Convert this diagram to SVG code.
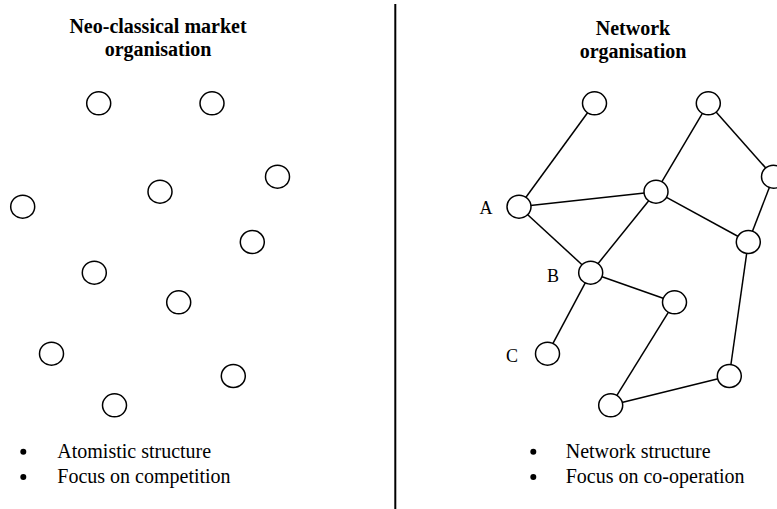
<svg xmlns="http://www.w3.org/2000/svg" width="777" height="509" viewBox="0 0 777 509">
<style>
.n{fill:#fff;stroke:#000;stroke-width:1.5}
.e{stroke:#000;stroke-width:1.5;fill:none}
.t{font-family:"Liberation Serif","Times New Roman","DejaVu Serif",serif;fill:#000}
.h{font-size:20px;font-weight:bold;text-anchor:middle}
.b{font-size:20px}
.l{font-size:18px;text-anchor:middle}
.dot{fill:#000}
</style>
<rect width="777" height="509" fill="#fff"/>
<line x1="395.3" y1="4" x2="395.3" y2="509" stroke="#000" stroke-width="2"/>
<g id="left-title" class="t h"><text x="158" y="33">Neo-classical market</text><text x="158" y="56">organisation</text></g>
<g id="right-title" class="t h"><text x="633" y="35">Network</text><text x="633" y="58">organisation</text></g>
<g id="left-nodes">
<g id="l1"><ellipse class="n" cx="98.7" cy="103.3" rx="12" ry="11.5"/></g>
<g id="l2"><ellipse class="n" cx="212" cy="103.3" rx="12" ry="11.5"/></g>
<g id="l3"><ellipse class="n" cx="22.7" cy="206.7" rx="12" ry="11.5"/></g>
<g id="l4"><ellipse class="n" cx="160" cy="191.7" rx="12" ry="11.5"/></g>
<g id="l5"><ellipse class="n" cx="277.5" cy="176.7" rx="12" ry="11.5"/></g>
<g id="l6"><ellipse class="n" cx="252.3" cy="242" rx="12" ry="11.5"/></g>
<g id="l7"><ellipse class="n" cx="94.3" cy="272.7" rx="12" ry="11.5"/></g>
<g id="l8"><ellipse class="n" cx="178.7" cy="302.3" rx="12" ry="11.5"/></g>
<g id="l9"><ellipse class="n" cx="51.5" cy="353.7" rx="12" ry="11.5"/></g>
<g id="l10"><ellipse class="n" cx="233.3" cy="376" rx="12" ry="11.5"/></g>
<g id="l11"><ellipse class="n" cx="114.5" cy="405.3" rx="12" ry="11.5"/></g>
</g>
<g id="connectors">
<line class="e" x1="519" y1="206.7" x2="594.5" y2="103.3"/>
<line class="e" x1="519" y1="206.7" x2="656" y2="191.7"/>
<line class="e" x1="519" y1="206.7" x2="590.7" y2="272.7"/>
<line class="e" x1="590.7" y1="272.7" x2="656" y2="191.7"/>
<line class="e" x1="656" y1="191.7" x2="708.3" y2="103.3"/>
<line class="e" x1="708.3" y1="103.3" x2="773.5" y2="176.7"/>
<line class="e" x1="656" y1="191.7" x2="748.3" y2="242"/>
<line class="e" x1="773.5" y1="176.7" x2="748.3" y2="242"/>
<line class="e" x1="590.7" y1="272.7" x2="674.5" y2="302.3"/>
<line class="e" x1="590.7" y1="272.7" x2="547.5" y2="353.7"/>
<line class="e" x1="674.5" y1="302.3" x2="610.7" y2="405.3"/>
<line class="e" x1="610.7" y1="405.3" x2="729.3" y2="376"/>
<line class="e" x1="729.3" y1="376" x2="748.3" y2="242"/>
</g>
<g id="right-nodes">
<g id="r1"><ellipse class="n" cx="594.5" cy="103.3" rx="12" ry="11.5"/></g>
<g id="r2"><ellipse class="n" cx="708.3" cy="103.3" rx="12" ry="11.5"/></g>
<g id="nodeA"><ellipse class="n" cx="519" cy="206.7" rx="12" ry="11.5"/><text class="t l" x="486" y="214">A</text></g>
<g id="r4"><ellipse class="n" cx="656" cy="191.7" rx="12" ry="11.5"/></g>
<g id="r5"><ellipse class="n" cx="773.5" cy="176.7" rx="12" ry="11.5"/></g>
<g id="r6"><ellipse class="n" cx="748.3" cy="242" rx="12" ry="11.5"/></g>
<g id="nodeB"><ellipse class="n" cx="590.7" cy="272.7" rx="12" ry="11.5"/><text class="t l" x="553" y="282">B</text></g>
<g id="r8"><ellipse class="n" cx="674.5" cy="302.3" rx="12" ry="11.5"/></g>
<g id="nodeC"><ellipse class="n" cx="547.5" cy="353.7" rx="12" ry="11.5"/><text class="t l" x="512" y="362">C</text></g>
<g id="r10"><ellipse class="n" cx="729.3" cy="376" rx="12" ry="11.5"/></g>
<g id="r11"><ellipse class="n" cx="610.7" cy="405.3" rx="12" ry="11.5"/></g>
</g>
<g id="left-bullets" class="t">
<circle class="dot" cx="23.3" cy="451.7" r="3"/><text class="b" x="57.3" y="458">Atomistic structure</text>
<circle class="dot" cx="23.3" cy="477" r="3"/><text class="b" x="57.3" y="482.7">Focus on competition</text>
</g>
<g id="right-bullets" class="t">
<circle class="dot" cx="533.3" cy="451.7" r="3"/><text class="b" x="565.7" y="458">Network structure</text>
<circle class="dot" cx="533.3" cy="477" r="3"/><text class="b" x="565.7" y="482.7">Focus on co-operation</text>
</g>
</svg>
